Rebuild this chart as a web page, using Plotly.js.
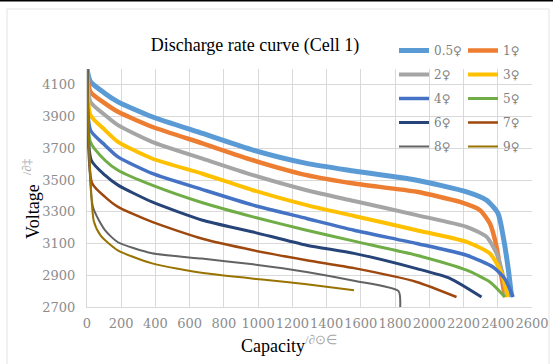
<!DOCTYPE html>
<html>
<head>
<meta charset="utf-8">
<script src="https://cdn.plot.ly/plotly-3.0.1.min.js"></script>
<style>html,body{margin:0;padding:0;background:#fff;}</style>
</head>
<body>
<div id="chart" style="width:553px;height:364px;"></div>
<script>
// ---- Data ----
const seriesNames = ["0.5♀", "1♀", "2♀", "3♀", "4♀", "5♀", "6♀", "7♀", "8♀", "9♀"];
const xTickVals = [0, 200, 400, 600, 800, 1000, 1200, 1400, 1600, 1800, 2000, 2200, 2400, 2600];
const yTickVals = [2700, 2900, 3100, 3300, 3500, 3700, 3900, 4100];

const cap05 = [0, 20, 105, 181, 380, 675, 970, 1283, 1560, 1926, 2218, 2335, 2402, 2432, 2460, 2481];
const v05   = [4200, 4120, 4046, 3993, 3899, 3794, 3689, 3605, 3557, 3499, 3426, 3373, 3289, 3142, 2950, 2763];

const cap1 = [0, 20, 105, 181, 380, 675, 970, 1283, 1560, 1926, 2179, 2296, 2354, 2393, 2420, 2442];
const v1   = [4200, 4056, 3983, 3930, 3836, 3731, 3625, 3531, 3478, 3426, 3362, 3310, 3226, 3079, 2900, 2763];

const cap2 = [0, 20, 105, 181, 380, 675, 970, 1283, 1560, 1926, 2218, 2335, 2393, 2430, 2451];
const v2   = [4200, 3993, 3910, 3846, 3741, 3635, 3531, 3436, 3368, 3279, 3205, 3142, 3037, 2900, 2763];

const cap3 = [0, 20, 105, 181, 380, 675, 970, 1283, 1560, 1926, 2218, 2354, 2420, 2459];
const v3   = [4200, 3910, 3815, 3741, 3636, 3540, 3436, 3342, 3274, 3184, 3110, 3037, 2920, 2763];

const cap4 = [0, 20, 105, 181, 380, 675, 970, 1283, 1560, 1926, 2218, 2372, 2440, 2490];
const v4   = [4200, 3815, 3720, 3646, 3542, 3440, 3342, 3258, 3184, 3100, 3026, 2952, 2880, 2763];

const cap5 = [0, 20, 105, 181, 380, 675, 970, 1283, 1560, 1926, 2218, 2354, 2442];
const v5   = [4200, 3740, 3625, 3562, 3468, 3357, 3268, 3184, 3115, 3026, 2932, 2858, 2763];

const cap6 = [0, 25, 105, 181, 380, 675, 970, 1283, 1560, 1926, 2120, 2305];
const v6   = [4200, 3625, 3531, 3468, 3362, 3247, 3173, 3089, 3038, 2942, 2881, 2763];

const cap7 = [0, 30, 105, 181, 380, 675, 970, 1283, 1560, 1926, 2159];
const v7   = [4200, 3480, 3394, 3331, 3236, 3130, 3058, 2995, 2945, 2858, 2763];

const cap8 = [0, 35, 105, 181, 380, 670, 970, 1283, 1560, 1820, 1830];
const v8   = [4200, 3330, 3184, 3108, 3039, 3005, 2969, 2921, 2865, 2800, 2700];

const cap9 = [0, 40, 80, 180, 380, 690, 1050, 1283, 1560];
const v9   = [4200, 3240, 3150, 3057, 2975, 2912, 2870, 2843, 2805];

// ---- Styles ----
const colors = ["#5B9BD5", "#ED7D31", "#A5A5A5", "#FFC000", "#4472C4", "#70AD47", "#264478", "#9E480E", "#636363", "#997300"];
const widths = [5, 4.5, 4, 4, 3.5, 3, 3, 2.5, 2, 2];

const caps = [cap05, cap1, cap2, cap3, cap4, cap5, cap6, cap7, cap8, cap9];
const volts = [v05, v1, v2, v3, v4, v5, v6, v7, v8, v9];

const traces = seriesNames.map((name, i) => ({
  type: "scatter",
  mode: "lines",
  name: name,
  x: caps[i],
  y: volts[i],
  legend: (i % 2 === 0) ? "legend" : "legend2",
  legendgroup: "g" + i,
  line: { color: colors[i], width: widths[i], shape: "spline", smoothing: 0.6 },
  hoverinfo: "skip"
}));

const gridColor = "#d9d9d9";
const tickFont = { family: "DejaVu Serif", size: 13, color: "#8c8c8c" };
const legendFont = { family: "DejaVu Serif", size: 12, color: "#7f7f7f" };

const layout = {
  width: 553,
  height: 364,
  margin: { l: 87, r: 21, t: 69, b: 57, pad: 0 },
  paper_bgcolor: "#ffffff",
  plot_bgcolor: "#ffffff",
  title: {
    text: "Discharge rate curve (Cell 1)",
    font: { family: "Liberation Serif", size: 18, color: "#000000" },
    xref: "container", yref: "container",
    x: 255 / 553, xanchor: "center",
    y: 1 - 45 / 364, yanchor: "middle"
  },
  xaxis: {
    range: [0, 2600],
    tickvals: xTickVals,
    ticktext: xTickVals.map(String),
    tickangle: 0,
    showgrid: true, gridcolor: gridColor, gridwidth: 1,
    showline: true, linecolor: gridColor, linewidth: 1,
    zeroline: false, ticks: "",
    tickfont: tickFont,
    ticklabelstandoff: 4,
    fixedrange: true
  },
  yaxis: {
    range: [2700, 4200],
    tickvals: yTickVals,
    ticktext: yTickVals.map(String),
    showgrid: true, gridcolor: gridColor, gridwidth: 1,
    showline: true, linecolor: gridColor, linewidth: 1,
    zeroline: false, ticks: "",
    tickfont: tickFont,
    ticklabelstandoff: 8,
    fixedrange: true
  },
  showlegend: true,
  legend: {
    x: (394 - 87) / 445, xanchor: "left",
    y: (307 - 36) / 238, yanchor: "top",
    bgcolor: "rgba(0,0,0,0)", borderwidth: 0,
    font: legendFont,
    traceorder: "grouped", tracegroupgap: 5,
    itemwidth: 30
  },
  legend2: {
    x: (463 - 87) / 445, xanchor: "left",
    y: (307 - 36) / 238, yanchor: "top",
    bgcolor: "rgba(0,0,0,0)", borderwidth: 0,
    font: legendFont,
    traceorder: "grouped", tracegroupgap: 5,
    itemwidth: 30
  },
  annotations: [
    {
      text: 'Capacity<sup><span style="color:#a6a6a6;font-size:13px">/∂⊙∈</span></sup>',
      xref: "paper", yref: "paper",
      x: (289 - 87) / 445, y: (307 - 344) / 238,
      xanchor: "center", yanchor: "middle",
      showarrow: false,
      font: { family: "Liberation Serif", size: 18, color: "#000000" }
    },
    {
      text: 'Voltage  <sup><span style="color:#a6a6a6;font-size:13px">/∂‡</span></sup>',
      xref: "paper", yref: "paper",
      x: (31 - 87) / 445, y: (307 - 199) / 238,
      xanchor: "center", yanchor: "middle",
      textangle: -90,
      showarrow: false,
      font: { family: "Liberation Serif", size: 18, color: "#000000" }
    }
  ],
  shapes: [
    {
      type: "rect", xref: "paper", yref: "paper",
      x0: (7 - 87) / 445, x1: (549 - 87) / 445,
      y0: (307 - 372) / 238, y1: (307 - 9) / 238,
      line: { color: "#e3e3e3", width: 1 }, fillcolor: "rgba(0,0,0,0)",
      layer: "below"
    },
    {
      type: "line", xref: "paper", yref: "paper",
      x0: (-5 - 87) / 445, x1: (560 - 87) / 445,
      y0: (307 - 0.5) / 238, y1: (307 - 0.5) / 238,
      line: { color: "#000000", width: 2 }
    }
  ]
};

Plotly.newPlot("chart", traces, layout, { displayModeBar: false, staticPlot: true });
</script>
</body>
</html>
